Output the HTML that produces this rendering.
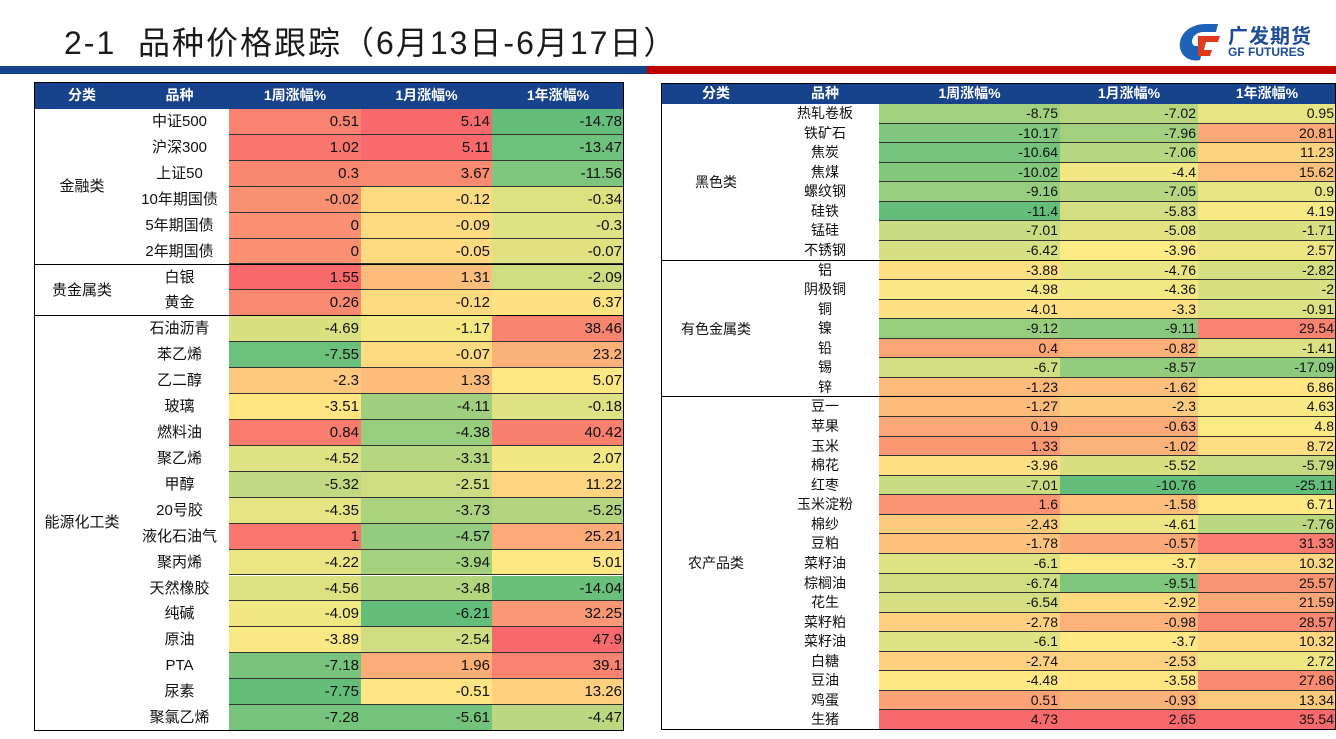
<!DOCTYPE html>
<html><head><meta charset="utf-8">
<style>
body{margin:0;width:1336px;height:739px;background:#fff;position:relative;overflow:hidden;font-family:"Liberation Sans","Noto Sans CJK SC",sans-serif;}
.abs{position:absolute;box-sizing:border-box;}
.c{position:absolute;box-sizing:border-box;white-space:nowrap;overflow:hidden;font-family:"Liberation Sans","Noto Sans CJK SC",sans-serif;color:#111;}
.h{background:#17428c;color:#fff;font-weight:bold;text-align:center;}
</style></head><body>
<div class="abs" style="left:64px;top:18px;font-size:32px;letter-spacing:2px;color:#1a1a1a;font-family:'Liberation Sans','Noto Sans CJK SC',sans-serif;">2-1&nbsp; 品种价格跟踪（6月13日-6月17日）</div>
<div class="abs" style="left:1176px;top:20px;width:160px;height:44px;">
<svg width="50" height="44" viewBox="0 0 50 44"><path d="M30 4 C12 4 2 16 4 28 C6 38 16 42 24 40 L28 26 L20 26 C14 26 14 14 26 12 L40 12 L42 4 Z" fill="#1e63b8"/><path d="M22 16 L44 16 L42 22 L30 22 L28 30 L36 30 L34 36 L22 36 Z" fill="#e03a1e"/></svg>
<div class="abs" style="left:52px;top:0;font-size:20px;font-weight:bold;color:#1e4c9a;letter-spacing:1px;">广发期货</div>
<div class="abs" style="left:52px;top:25px;font-size:12px;font-weight:bold;color:#1e4c9a;">GF FUTURES</div>
</div>
<div class="abs" style="left:0;top:66px;width:647px;height:8px;background:#17428c;"></div>
<div class="abs" style="left:647px;top:66px;width:689px;height:8px;background:#c00000;"></div>
<div id="root"></div>
<script>
const headers=["分类","品种","1周涨幅%","1月涨幅%","1年涨幅%"];
const leftGroups=[["金融类",6],["贵金属类",2],["能源化工类",16]];
const leftNames=["中证500","沪深300","上证50","10年期国债","5年期国债","2年期国债","白银","黄金","石油沥青","苯乙烯","乙二醇","玻璃","燃料油","聚乙烯","甲醇","20号胶","液化石油气","聚丙烯","天然橡胶","纯碱","原油","PTA","尿素","聚氯乙烯"];
const leftWeek=[0.51,1.02,0.3,-0.02,0,0,1.55,0.26,-4.69,-7.55,-2.3,-3.51,0.84,-4.52,-5.32,-4.35,1,-4.22,-4.56,-4.09,-3.89,-7.18,-7.75,-7.28];
const leftMonth=[5.14,5.11,3.67,-0.12,-0.09,-0.05,1.31,-0.12,-1.17,-0.07,1.33,-4.11,-4.38,-3.31,-2.51,-3.73,-4.57,-3.94,-3.48,-6.21,-2.54,1.96,-0.51,-5.61];
const leftYear=[-14.78,-13.47,-11.56,-0.34,-0.3,-0.07,-2.09,6.37,38.46,23.2,5.07,-0.18,40.42,2.07,11.22,-5.25,25.21,5.01,-14.04,32.25,47.9,39.1,13.26,-4.47];
const rightGroups=[["黑色类",8],["有色金属类",7],["农产品类",17]];
const rightNames=["热轧卷板","铁矿石","焦炭","焦煤","螺纹钢","硅铁","锰硅","不锈钢","铝","阴极铜","铜","镍","铅","锡","锌","豆一","苹果","玉米","棉花","红枣","玉米淀粉","棉纱","豆粕","菜籽油","棕榈油","花生","菜籽粕","菜籽油","白糖","豆油","鸡蛋","生猪"];
const rightWeek=[-8.75,-10.17,-10.64,-10.02,-9.16,-11.4,-7.01,-6.42,-3.88,-4.98,-4.01,-9.12,0.4,-6.7,-1.23,-1.27,0.19,1.33,-3.96,-7.01,1.6,-2.43,-1.78,-6.1,-6.74,-6.54,-2.78,-6.1,-2.74,-4.48,0.51,4.73];
const rightMonth=[-7.02,-7.96,-7.06,-4.4,-7.05,-5.83,-5.08,-3.96,-4.76,-4.36,-3.3,-9.11,-0.82,-8.57,-1.62,-2.3,-0.63,-1.02,-5.52,-10.76,-1.58,-4.61,-0.57,-3.7,-9.51,-2.92,-0.98,-3.7,-2.53,-3.58,-0.93,2.65];
const rightYear=[0.95,20.81,11.23,15.62,0.9,4.19,-1.71,2.57,-2.82,-2,-0.91,29.54,-1.41,-17.09,6.86,4.63,4.8,8.72,-5.79,-25.11,6.71,-7.76,31.33,10.32,25.57,21.59,28.57,10.32,2.72,27.86,13.34,35.54];

const G=[99,190,123],Y=[255,235,132],R=[248,105,107];
function mix(a,b,t){return 'rgb('+a.map((v,i)=>Math.round(v+(b[i]-v)*t)).join(',')+')';}
function scale(arr){
  const s=[...arr].sort((a,b)=>a-b),n=s.length,mn=s[0],mx=s[n-1];
  const p=(n-1)*0.5,lo=Math.floor(p),md=s[lo]+(s[Math.ceil(p)]-s[lo])*(p-lo);
  return v=>v<=md?mix(G,Y,md===mn?1:(v-mn)/(md-mn)):mix(Y,R,mx===md?0:(v-md)/(mx-md));
}
const root=document.getElementById('root');
function cell(x,y,w,h,txt,cls,style,name){
  const d=document.createElement('div');
  d.className='c '+(cls||'');
  d.style.cssText=`left:${x}px;top:${y}px;width:${w}px;height:${h}px;line-height:${h}px;`+(style||'');
  d.textContent=txt;
  
  
  root.appendChild(d);return d;
}
function build(side,cols,top,hh,rowH,groups,names,series,fs,hfs){
  const x0=cols[0],x1=cols[cols.length-1];
  for(let i=0;i<5;i++)cell(cols[i],top,cols[i+1]-cols[i],hh,headers[i],'h',`font-size:${hfs}px;`,side+'-header-'+i);
  const y0=top+hh;
  const sc=series.map(scale);
  names.forEach((n,r)=>{
    const y=y0+r*rowH;
    cell(cols[1],y,cols[2]-cols[1],rowH,n,'',`text-align:center;font-size:${fs}px;`,side+'-name-'+r);
    series.forEach((arr,k)=>{
      cell(cols[2+k],y,cols[3+k]-cols[2+k],rowH,String(arr[r]),'',`text-align:right;padding-right:2px;font-size:${fs}px;background:${sc[k](arr[r])};border-bottom:1px solid #333;`,side+'-value-'+r+'-'+k);
    });
  });
  let r0=0;
  groups.forEach(([g,n],gi)=>{
    const y=y0+r0*rowH;
    cell(x0,y,cols[1]-x0,n*rowH,g,'',`text-align:center;font-size:${fs}px;line-height:${n*rowH}px;`,side+'-group-'+gi);
    r0+=n;
    const ln=document.createElement('div');ln.className='abs';
    ln.style.cssText=`left:${x0}px;top:${y0+r0*rowH-1}px;width:${x1-x0}px;height:1px;background:#000;`;
    
    
    root.appendChild(ln);
  });
  const b=document.createElement('div');b.className='abs';
  b.style.cssText=`left:${x0}px;top:${top}px;width:${x1-x0}px;height:${hh+names.length*rowH}px;border:1px solid #000;`;
  
  
  root.appendChild(b);
}
build('left',[34,130,229,361,492,624],82,27,(731-109)/24,leftGroups,leftNames,[leftWeek,leftMonth,leftYear],15,14);
build('right',[661,771,879,1060,1198,1336],83,21,(730-104)/32,rightGroups,rightNames,[rightWeek,rightMonth,rightYear],14,14);
</script>
</body></html>
